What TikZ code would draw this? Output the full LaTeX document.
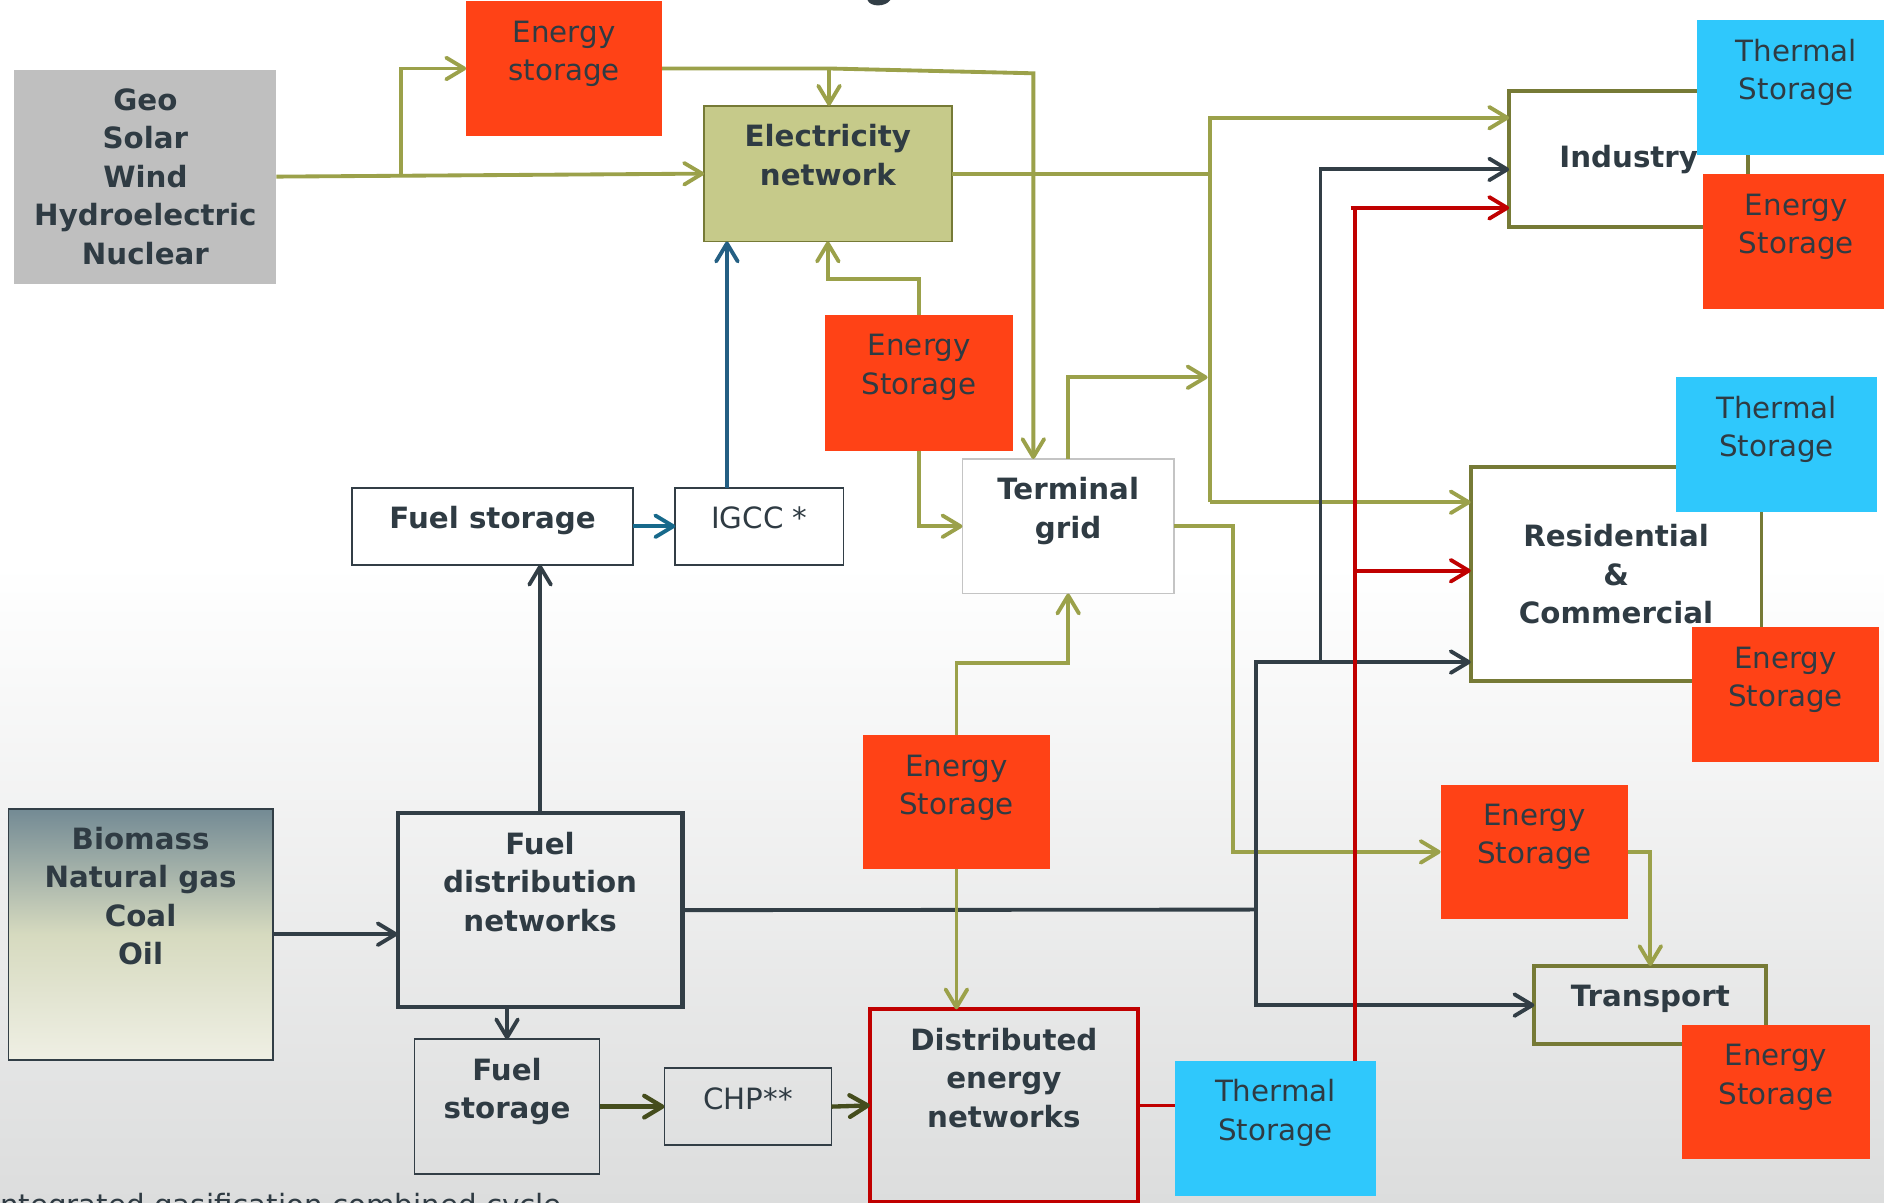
\documentclass[tikz,border=0pt]{standalone}
\usepackage{fontspec}
\setmainfont{DejaVu Sans}
\usetikzlibrary{arrows.meta}
\definecolor{olv}{HTML}{9BA14A}
\definecolor{olvd}{HTML}{767A36}
\definecolor{drk}{HTML}{323E46}
\definecolor{redl}{HTML}{C00000}
\definecolor{bluel}{HTML}{245F83}
\definecolor{tealb}{HTML}{17698B}
\definecolor{olvk}{HTML}{454D1D}
\definecolor{orng}{HTML}{FF4216}
\definecolor{cyn}{HTML}{2FC8FC}
\definecolor{gryb}{HTML}{BFBFBF}
\definecolor{elecf}{HTML}{C6CA8A}
\definecolor{txt}{HTML}{2F3B43}
\definecolor{bgb}{HTML}{DCDDDD}
\definecolor{bioT}{HTML}{738A94}
\definecolor{bioM}{HTML}{D6DABF}
\definecolor{bioB}{HTML}{EFEFE4}
\definecolor{tgb}{HTML}{C4C4C4}
\newcommand{\fsz}{\fontsize{12.2}{16}\selectfont}
\newcommand{\tb}[3]{\parbox[c][#2][t]{#1}{\centering\rule{0pt}{17pt}#3\par}}
\newcommand{\cb}[3]{\parbox[c][#2][c]{#1}{\centering #3\par}}
\begin{document}
\begin{tikzpicture}[x=0.5pt,y=-0.5pt,font=\fsz,
  base/.style={inner sep=0pt, outer sep=0pt, text=txt, anchor=north west, font=\fsz},
  bld/.style={base, font=\fsz\bfseries},
  esbox/.style={base, fill=orng},
  thbox/.style={base, fill=cyn},
  thinbox/.style={draw=drk, line width=0.75pt},
  olbox/.style={bld, draw=olvd, line width=1.6pt},
  arr/.style={-{Straight Barb[length=7.5pt,width=9pt,round]}},
  ol/.style={draw=olv, line width=1.6pt},
  dk/.style={draw=drk, line width=1.6pt},
  rd/.style={draw=redl, line width=1.6pt}]
\useasboundingbox (0,0) rectangle (1568,1001);
\clip (0,0) rectangle (1568,1001);
% background
\fill[white] (0,0) rectangle (1568,1001);
\shade[top color=white, bottom color=bgb] (0,470) rectangle (1568,1001);
% fragment of title
\fill[drk] (722,0) .. controls (724,6) and (737,6) .. (741,0) -- cycle;

% boxes
\node[bld, fill=gryb] (geo) at (12,58) {\tb{109pt}{89pt}{Geo\\Solar\\Wind\\Hydroelectric\\Nuclear}};
\node[esbox] (es1) at (388,1) {\tb{81.5pt}{56pt}{Energy\\storage}};
\node[bld, fill=elecf, draw=olvd, line width=0.8pt] (elec) at (586,88) {\tb{103pt}{56.5pt}{Electricity\\network}};
\node[esbox] (es2) at (687,262) {\tb{78pt}{56.5pt}{Energy\\Storage}};
\node[bld, fill=white, draw=tgb, line width=0.75pt] (tgrid) at (801,382) {\tb{88pt}{56pt}{Terminal\\grid}};
\node[bld, thinbox] (fs1) at (293,406) {\tb{117pt}{32pt}{Fuel storage}};
\node[base, thinbox] (igcc) at (562,406) {\tb{70pt}{32pt}{IGCC *}};
\node[bld, draw=drk, line width=0.75pt, top color=bioT, bottom color=bioB, middle color=bioM] (bio) at (7,673) {\tb{110pt}{104.5pt}{Biomass\\Natural gas\\Coal\\Oil}};
\node[bld, draw=drk, line width=1.7pt] (fdn) at (331,677) {\tb{118.5pt}{80.5pt}{Fuel\\distribution\\networks}};
\node[bld, thinbox] (fs2) at (345,865) {\tb{77pt}{56pt}{Fuel\\storage}};
\node[base, thinbox] (chp) at (553,889) {\tb{69.5pt}{32pt}{CHP**}};
\node[bld, draw=redl, line width=1.7pt] (den) at (724,840) {\tb{111.5pt}{80pt}{Distributed\\energy\\networks}};
\node[esbox] (es3) at (718,612) {\tb{78pt}{55.5pt}{Energy\\Storage}};
\node[olbox, fill=white] (ind) at (1256,76) {\cb{99.5pt}{56.5pt}{Industry}};
\node[olbox, fill=white] (res) at (1224,389) {\cb{121pt}{89pt}{Residential\\\&\\Commercial}};
\node[olbox] (trans) at (1277,804) {\tb{96.5pt}{32.5pt}{Transport}};
% storage boxes on top
\node[thbox] (th1) at (1412,17) {\tb{83pt}{56pt}{Thermal\\Storage}};
\node[esbox] (es5) at (1417,145) {\tb{78pt}{56pt}{Energy\\Storage}};
\node[thbox] (th2) at (1395,314) {\tb{83.5pt}{56pt}{Thermal\\Storage}};
\node[esbox] (es6) at (1408,522) {\tb{78pt}{56pt}{Energy\\Storage}};
\node[esbox] (es4) at (1199,653) {\tb{78pt}{56pt}{Energy\\Storage}};
\node[esbox] (es7) at (1400,853) {\tb{78pt}{56pt}{Energy\\Storage}};
\node[thbox] (th3) at (978,883) {\tb{83.5pt}{56pt}{Thermal\\Storage}};
\node[base, anchor=base west] (note) at (0,1012) {ntegrated gasification combined cycle};

% coordinates
\coordinate (j1) at (334,146);
\coordinate (j2) at (690,57);
\coordinate (j3) at (860,61);
\coordinate (jA) at (1007,98);
\coordinate (jB) at (1007,418);
\coordinate (jT) at (1005,314);
\coordinate (jG) at (1026,438);
\coordinate (jD1) at (1045,757);
\coordinate (jD2) at (1045,551);
\coordinate (jD3) at (1099,551);
\coordinate (jD4) at (1099,141);
\coordinate (jR1) at (1128,173);
\coordinate (jR2) at (1128,475);
\coordinate (jI) at ([xshift=-13.5pt]igcc.north);

% olive connectors
\draw[ol,arr] (geo.east) -- (elec.west);
\draw[ol,arr] (j1) |- (es1.west);
\draw[ol,arr] (es1.east) -- (j2) -- (j3) -- (j3 |- tgrid.north);
\draw[ol,arr] (j2) -- (j2 |- elec.north);
\draw[ol] (elec.east) -- (elec.east -| jA);
\draw[ol,arr] (jB) -- (jA) -- (jA -| ind.west);
\draw[ol,arr] (jB) -- (jB -| res.west);
\draw[ol,arr] (es2.north) -- ++(0,-30) -| (elec.south);
\draw[ol,arr] (es2.south) |- (tgrid.west);
\draw[ol,arr] (tgrid.north) |- (jT);
\draw[ol,arr] (tgrid.east) -- (jG) |- (es4.west);
\draw[ol,arr] (es3.north) -- ++(0,-60) -| (tgrid.south);
\draw[ol,arr] (es4.east) -| (trans.north);

% dark connectors
\draw[dk] (fdn.east) -- (jD1);
\draw[dk,arr] (jD1) -- (jD2) -- (jD2 -| res.west);
\draw[dk,arr] (jD1) |- (trans.west);
\draw[dk,arr] (jD3) -- (jD4) -- (jD4 -| ind.west);
\draw[dk,arr] (bio.east) -- (bio.east -| fdn.west);
\draw[dk,arr] (fdn.north) -- (fdn.north |- fs1.south);
\draw[dk,arr] (fs2.north |- fdn.south) -- (fs2.north);
\draw[draw=tealb, line width=1.6pt, arr] (fs1.east) -- (igcc.west);
\draw[draw=bluel, line width=1.6pt, arr] (jI) -- (jI |- elec.south);
\draw[draw=olvk, line width=1.8pt, arr] (fs2.east) -- (chp.west);
\draw[draw=olvk, line width=1.8pt, arr] (chp.east) -- (den.west);
\draw[ol,arr] (es3.south) -- (es3.south |- den.north);

% red connectors
\draw[rd] (den.east) -- (den.east -| th3.west);
\draw[rd] (th3.north -| jR1) -- (jR1);
\draw[rd,arr] ([xshift=-2pt]jR1) -- (jR1 -| ind.west);
\draw[rd,arr] (jR2) -- (jR2 -| res.west);
\end{tikzpicture}
\end{document}
